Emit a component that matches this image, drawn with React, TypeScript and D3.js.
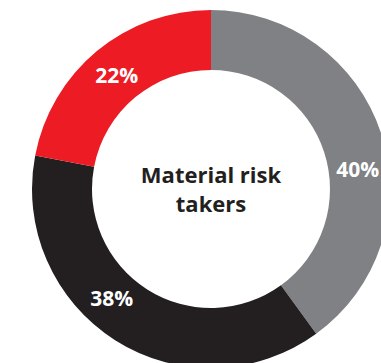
import React from "react";
import * as d3 from "d3";

const categories = ["Gray", "Black", "Red"];
const values = [40, 38, 22];
const labels = ["40%", "38%", "22%"];
const colors = ["#808184", "#231f20", "#ed1c24"];
const centerLines = ["Material risk", "takers"];

const W = 381;
const H = 363;
const cx = 211;
const cy = 189;
const outerR = 179;
const innerR = 119;
// angular nudges (radians) for label placement along the ring
const labelShift = [0.18, 0.17, 0.0];

export default function App() {
  const pie = d3.pie<number>().sort(null).value((d) => d);
  const arcs = pie(values);
  const arc = d3.arc<d3.PieArcDatum<number>>().innerRadius(innerR).outerRadius(outerR);
  const labelR = 148;
  return (
    <svg
      width={W}
      height={H}
      style={{ position: "fixed", left: 0, top: 0, background: "#fff" }}
      fontFamily="'Open Sans', sans-serif"
    >
      <g transform={`translate(${cx},${cy})`}>
        {arcs.map((a, i) => (
          <path key={categories[i]} d={arc(a) || ""} fill={colors[i]} />
        ))}
        {arcs.map((a, i) => {
          const ang = (a.startAngle + a.endAngle) / 2 + labelShift[i];
          const x = labelR * Math.sin(ang);
          const y = -labelR * Math.cos(ang);
          return (
            <text
              key={"l" + i}
              x={x}
              y={y}
              dy="0.36em"
              textAnchor="middle"
              fill="#fff"
              fontWeight={700}
              fontSize={21}
            >
              {labels[i]}
            </text>
          );
        })}
        {centerLines.map((t, i) => (
          <text
            key={t}
            x={0}
            y={-6 + i * 29}
            textAnchor="middle"
            fill="#231f20"
            fontWeight={700}
            fontSize={22}
          >
            {t}
          </text>
        ))}
      </g>
    </svg>
  );
}
